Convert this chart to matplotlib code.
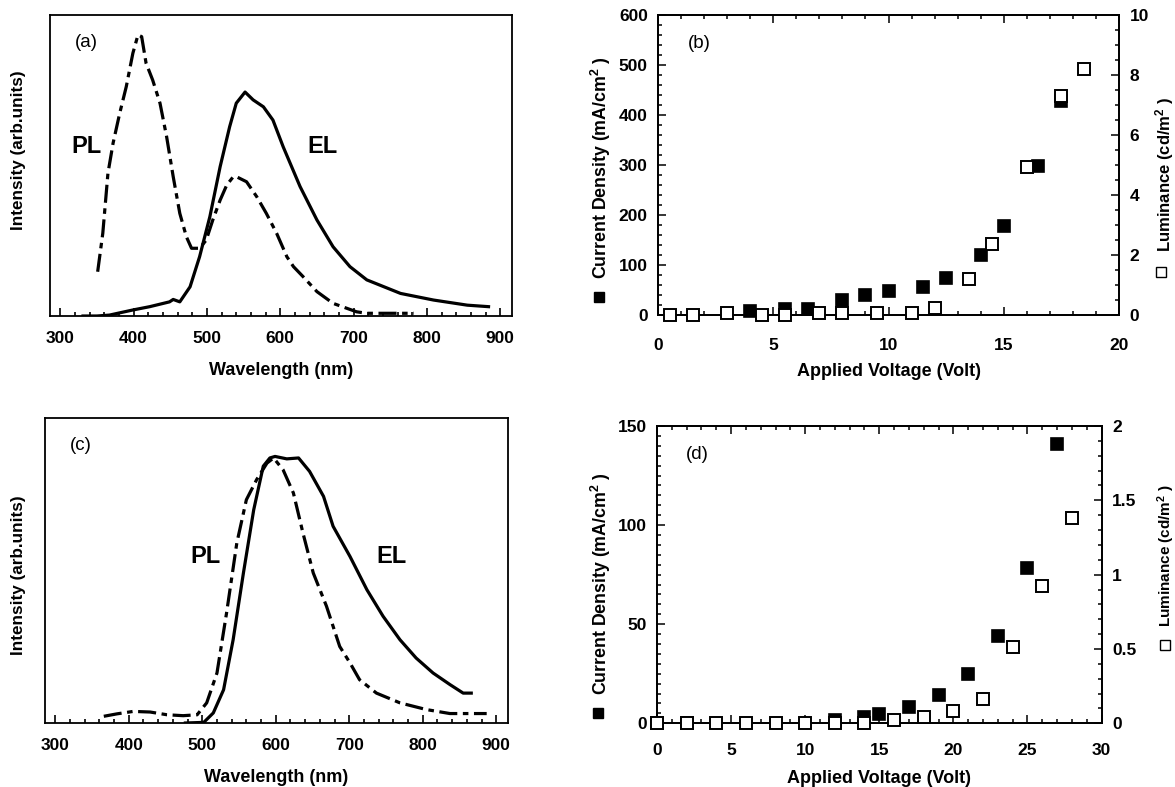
import matplotlib
matplotlib.use('Agg')
import matplotlib.pyplot as plt
from matplotlib.ticker import MultipleLocator, FuncFormatter

plt.rcParams['font.family'] = ['Liberation Sans', 'DejaVu Sans']
plt.rcParams['mathtext.fontset'] = 'custom'
plt.rcParams['mathtext.rm'] = 'Liberation Sans:bold'
plt.rcParams['mathtext.bf'] = 'Liberation Sans:bold'
plt.rcParams['mathtext.it'] = 'Liberation Sans:bold'
plt.rcParams['lines.scale_dashes'] = False

# ---------------- data ----------------
# (a) spectra (intensity normalised to axis height)
a_pl_wl = [351, 358, 365, 372, 381, 390, 399, 406, 411, 417, 426, 436, 445, 454, 463, 472,
           479, 490, 499, 508, 518, 527, 536, 540, 554, 568, 581, 595, 609, 618, 631, 650,
           672, 704, 718, 741, 782]
a_pl_int = [0.147, 0.275, 0.474, 0.574, 0.673, 0.762, 0.873, 0.934, 0.928, 0.84, 0.784, 0.707,
            0.596, 0.463, 0.341, 0.263, 0.225, 0.225, 0.252, 0.319, 0.385, 0.435, 0.463, 0.463,
            0.446, 0.396, 0.341, 0.275, 0.197, 0.164, 0.131, 0.081, 0.042, 0.014, 0.009, 0.009,
            0.009]
a_el_wl = [331, 350, 367, 399, 422, 449, 454, 463, 477, 490, 504, 518, 531, 540, 552, 563,
           577, 590, 604, 627, 650, 672, 695, 718, 764, 809, 855, 884]
a_el_int = [0.0, 0.0, 0.003, 0.02, 0.031, 0.047, 0.055, 0.047, 0.097, 0.197, 0.33, 0.496,
            0.629, 0.707, 0.744, 0.718, 0.695, 0.651, 0.562, 0.43, 0.319, 0.23, 0.164, 0.12,
            0.075, 0.053, 0.036, 0.031]

# (c) spectra
c_pl_wl = [366, 384, 406, 429, 452, 474, 493, 506, 520, 533, 547, 560, 574, 588, 597, 610,
           624, 637, 651, 669, 687, 701, 714, 737, 769, 805, 837, 887]
c_pl_int = [0.022, 0.03, 0.038, 0.036, 0.027, 0.024, 0.027, 0.066, 0.164, 0.36, 0.59, 0.732,
            0.798, 0.852, 0.869, 0.83, 0.754, 0.623, 0.492, 0.383, 0.251, 0.197, 0.142, 0.098,
            0.066, 0.044, 0.031, 0.031]
c_el_wl = [477, 502, 515, 529, 542, 556, 570, 583, 592, 599, 615, 631, 646, 665, 678, 701,
           724, 746, 769, 791, 814, 837, 855, 866]
c_el_int = [0.0, 0.002, 0.033, 0.109, 0.273, 0.492, 0.699, 0.842, 0.869, 0.874, 0.866, 0.869,
            0.825, 0.743, 0.645, 0.546, 0.437, 0.35, 0.273, 0.213, 0.164, 0.126, 0.098, 0.098]

# (b) J-V-L
b_j_v = [4.0, 5.5, 6.5, 8.0, 9.0, 10.0, 11.5, 12.5, 14.0, 15.0, 16.5, 17.5]
b_j = [8, 12, 12, 30, 40, 47, 55, 73, 120, 177, 297, 427]
b_l_v = [0.5, 1.5, 3.0, 4.5, 5.5, 7.0, 8.0, 9.5, 11.0, 12.0, 13.5, 14.5, 16.0, 17.5, 18.5]
b_l = [0.0, 0.0, 0.05, 0.0, 0.0, 0.05, 0.05, 0.05, 0.08, 0.22, 1.19, 2.36, 4.94, 7.3, 8.2]

# (d) J-V-L
d_j_v = [0, 2, 12, 14, 15, 17, 19, 21, 23, 25, 27]
d_j = [0, 0, 1.7, 3.0, 4.6, 8.0, 14.2, 24.7, 43.8, 78.2, 140.8]
d_l_v = [0, 2, 4, 6, 8, 10, 12, 14, 16, 18, 20, 22, 24, 26, 28]
d_l = [0, 0, 0, 0, 0, 0.005, 0, 0.005, 0.022, 0.045, 0.083, 0.161, 0.515, 0.925, 1.38]

# ---------------- figure ----------------
W, H = 1175, 787
fig = plt.figure(figsize=(W / 100, H / 100), dpi=100)


def rect(l, r, t, b):
    return [l / W, (H - b) / H, (r - l) / W, (b - t) / H]


LW_SPINE = 1.3
TICKFS = 12.5
pl_dash = (13, 4, 4, 4)


def spectrum_axes(pos, el_wl, el_int, pl_wl, pl_int, tag, pl_xy, el_xy, ylab_xy):
    ax = fig.add_axes(pos)
    ax.plot(el_wl, el_int, color='black', lw=2.3, solid_joinstyle='round')
    ln, = ax.plot(pl_wl, pl_int, color='black', lw=2.3)
    ln.set_dashes(pl_dash)
    ax.set_xlim(286, 916)
    ax.set_ylim(0, 1)
    ax.xaxis.set_major_locator(MultipleLocator(100))
    ax.xaxis.set_minor_locator(MultipleLocator(20))
    ax.set_yticks([])
    ax.tick_params(axis='x', which='both', direction='in', bottom=True, top=False,
                   width=1.2, pad=10.5, labelsize=TICKFS)
    ax.tick_params(axis='x', which='major', length=5.5)
    ax.tick_params(axis='x', which='minor', length=2.8)
    for lab in ax.get_xticklabels():
        lab.set_fontweight('bold')
    for s in ax.spines.values():
        s.set_linewidth(LW_SPINE)
    ax.set_xlabel('Wavelength (nm)', fontsize=13, fontweight='bold', labelpad=12)
    ax.set_ylabel('Intensity (arb.units)', fontsize=12.3, fontweight='bold')
    ax.yaxis.set_label_coords(*ylab_xy)
    ax.text(0.054, 0.91, tag, transform=ax.transAxes, fontsize=13.5, va='center', ha='left')
    ax.text(pl_xy[0], pl_xy[1], 'PL', fontsize=17, fontweight='bold', ha='center', va='center')
    ax.text(el_xy[0], el_xy[1], 'EL', fontsize=17, fontweight='bold', ha='center', va='center')
    return ax


spectrum_axes(rect(50, 512, 15, 316), a_el_wl, a_el_int, a_pl_wl, a_pl_int, '(a)',
              (336, 0.562), (658, 0.562), (-0.052, 0.55))
spectrum_axes(rect(45, 508, 418, 723), c_el_wl, c_el_int, c_pl_wl, c_pl_int, '(c)',
              (505, 0.546), (757, 0.546), (-0.041, 0.486))

fmt = FuncFormatter(lambda v, p: '%g' % v)


def jvl_axes(pos, jv, j, lv, lum, xmax, xmaj, jmax, jmaj, jmin, lmax, lmaj, lmin, tag,
             bpad, ylab_l, sq_l, lfs, ylab_r, sq_r, rfs, xlab_y):
    ax = fig.add_axes(pos)
    ax2 = ax.twinx()
    ax.plot(jv, j, 's', ms=8.5, mfc='black', mec='black', mew=1.2, zorder=3, clip_on=False)
    ax2.plot(lv, lum, 's', ms=8.5, mfc='white', mec='black', mew=1.4, zorder=4, clip_on=False)
    ax.set_xlim(0, xmax)
    ax.set_ylim(0, jmax)
    ax2.set_ylim(0, lmax)
    ax.xaxis.set_major_locator(MultipleLocator(xmaj))
    ax.xaxis.set_minor_locator(MultipleLocator(1))
    ax.yaxis.set_major_locator(MultipleLocator(jmaj))
    ax.yaxis.set_minor_locator(MultipleLocator(jmin))
    ax2.yaxis.set_major_locator(MultipleLocator(lmaj))
    ax2.yaxis.set_minor_locator(MultipleLocator(lmin))
    ax.xaxis.set_major_formatter(fmt)
    ax.yaxis.set_major_formatter(fmt)
    ax2.yaxis.set_major_formatter(fmt)
    ax.tick_params(axis='x', which='both', direction='in', top=True, bottom=True,
                   width=1.1, pad=bpad, labelsize=TICKFS)
    ax.tick_params(axis='y', which='both', direction='in', left=True, right=False,
                   width=1.1, pad=7.3, labelsize=TICKFS)
    ax2.tick_params(axis='y', which='both', direction='in', right=True, left=False,
                    width=1.1, pad=7.5, labelsize=TICKFS)
    for a in (ax, ax2):
        a.tick_params(which='major', length=5.5)
        a.tick_params(which='minor', length=3)
        for s in a.spines.values():
            s.set_linewidth(LW_SPINE)
    for lab in ax.get_xticklabels() + ax.get_yticklabels() + ax2.get_yticklabels():
        lab.set_fontweight('bold')
    ax.set_xlabel('Applied Voltage (Volt)', fontsize=13, fontweight='bold')
    ax.set_ylabel('Current Density (mA/cm$^{2}$ )', fontsize=lfs, fontweight='bold')
    ax2.set_ylabel('Luminance (cd/m$^{2}$ )', fontsize=rfs, fontweight='bold')
    ax.yaxis.set_label_coords(*ylab_l)
    ax2.yaxis.set_label_coords(*ylab_r)
    ax.xaxis.set_label_coords(0.5, xlab_y)
    # legend squares that precede the axis titles
    ax.plot([sq_l[0]], [sq_l[1]], 's', ms=7.2, mfc='black', mec='black', mew=1.0,
            transform=ax.transAxes, clip_on=False)
    ax2.plot([sq_r[0]], [sq_r[1]], 's', ms=7.2, mfc='white', mec='black', mew=1.0,
             transform=ax2.transAxes, clip_on=False)
    ax.text(0.065, 0.905, tag, transform=ax.transAxes, fontsize=13.5, va='center', ha='left')
    return ax, ax2


jvl_axes(rect(658, 1119, 15, 315), b_j_v, b_j, b_l_v, b_l, 20, 5, 600, 100, 20,
         10, 2, 0.5, '(b)', 16.5,
         (-0.097, 0.49), (-0.128, 0.06), 12.8, (1.074, 0.47), (1.091, 0.143), 12, -0.16)
jvl_axes(rect(657, 1101.5, 426, 723.3), d_j_v, d_j, d_l_v, d_l, 30, 5, 150, 50, 5,
         2, 0.5, 0.1, '(d)', 14,
         (-0.099, 0.469), (-0.133, 0.035), 12.8, (1.121, 0.563), (1.142, 0.263), 11, -0.157)

fig.savefig('out.png', dpi=100)
